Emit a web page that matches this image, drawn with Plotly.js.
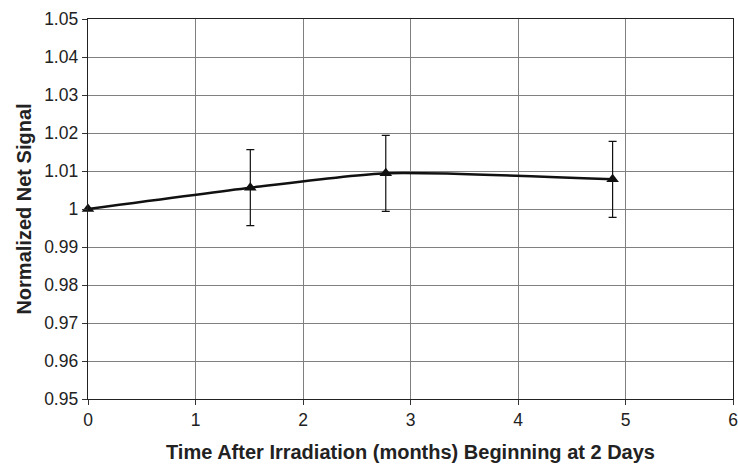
<!DOCTYPE html>
<html><head><meta charset="utf-8">
<script src="https://cdn.plot.ly/plotly-3.0.1.min.js"></script>
<style>html,body{margin:0;padding:0;background:#fff}#c{width:738px;height:465px}</style>
</head><body><div id="c"></div>
<script>
const timeMonths = [0, 1.51, 2.77, 4.88];
const netSignal = [1.0, 1.0056, 1.0094, 1.0078];
const errPlus = [0, 0.01, 0.01, 0.01];
const xTicks = [0, 1, 2, 3, 4, 5, 6];
const yTicks = [0.95, 0.96, 0.97, 0.98, 0.99, 1.0, 1.01, 1.02, 1.03, 1.04, 1.05];
const yTickText = ['0.95','0.96','0.97','0.98','0.99','1','1.01','1.02','1.03','1.04','1.05'];

Plotly.newPlot('c', [{
  x: timeMonths, y: netSignal, type: 'scatter', mode: 'lines+markers',
  line: {color: '#111', width: 2.5, shape: 'spline', smoothing: 0.6},
  marker: {symbol: 'triangle-up', size: 11, color: '#111'},
  error_y: {type: 'data', array: errPlus, visible: true, color: '#111', thickness: 1.2, width: 4},
  cliponaxis: false
}], {
  width: 738, height: 465,
  margin: {l: 88, r: 5, t: 19, b: 66},
  paper_bgcolor: '#fff', plot_bgcolor: '#fff',
  showlegend: false,
  font: {family: 'Liberation Sans, Arial, sans-serif', color: '#222'},
  xaxis: {
    range: [0, 6], tickvals: xTicks, ticks: 'outside', ticklen: 5, tickcolor: '#333',
    showgrid: true, gridcolor: '#808080', gridwidth: 1, zeroline: false,
    showline: true, linecolor: '#222', linewidth: 1.3, mirror: true,
    tickfont: {size: 17.5, color: '#222'},
    title: {text: 'Time After Irradiation (months) Beginning at 2 Days', font: {size: 20, color: '#222', weight: 'bold'}, standoff: 15}
  },
  yaxis: {
    range: [0.95, 1.05], tickvals: yTicks, ticktext: yTickText, ticks: 'outside', ticklen: 5, tickcolor: '#333',
    showgrid: true, gridcolor: '#808080', gridwidth: 1, zeroline: false,
    showline: true, linecolor: '#222', linewidth: 1.3, mirror: true,
    tickfont: {size: 17.5, color: '#222'},
    title: {text: 'Normalized Net Signal', font: {size: 20, color: '#222', weight: 'bold'}, standoff: 7}
  }
}, {displayModeBar: false, staticPlot: true});
</script></body></html>
